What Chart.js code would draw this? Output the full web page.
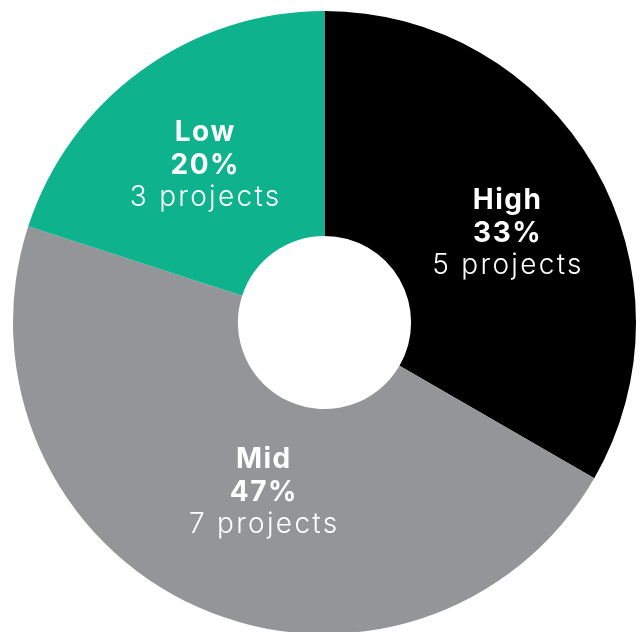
<!DOCTYPE html>
<html>
<head>
<meta charset="utf-8">
<script src="https://cdn.jsdelivr.net/npm/chart.js@4/dist/chart.umd.min.js"></script>
<style>
  html, body { margin: 0; padding: 0; background: #fff; overflow: hidden; width: 643px; height: 632px; }
  #wrap { position: absolute; left: 13px; top: 10.5px; width: 623px; height: 623px; }
</style>
</head>
<body>
<div id="wrap"><canvas id="c"></canvas></div>
<script>
const categories = ["High", "Mid", "Low"];
const projectCounts = [5, 7, 3];
const sliceColors = ["#000000", "#939598", "#0eb28c"];

const total = projectCounts.reduce((a, b) => a + b, 0);

const labelPlugin = {
  id: 'sliceLabels',
  afterDatasetsDraw(chart, args, opts) {
    const ctx = chart.ctx;
    const meta = chart.getDatasetMeta(0);
    meta.data.forEach((arc, i) => {
      const p = arc.tooltipPosition();
      const nudge = opts.nudges[i] || [0, 0];
      const x = p.x + nudge[0], y = p.y + nudge[1];
      const pct = Math.round(projectCounts[i] / total * 100) + '%';
      const lines = [
        { t: categories[i], f: 'bold 28px Inter', ls: '1.5px' },
        { t: pct, f: 'bold 28px Inter', ls: '1.5px' },
        { t: projectCounts[i] + ' projects', f: '300 28px Inter', ls: '2.3px' }
      ];
      const lh = 32.5;
      ctx.save();
      ctx.fillStyle = '#ffffff';
      ctx.textBaseline = 'middle';
      lines.forEach((l, k) => {
        ctx.font = l.f;
        ctx.letterSpacing = l.ls;
        const w = ctx.measureText(l.t).width;
        ctx.textAlign = 'left';
        ctx.fillText(l.t, x - (w - parseFloat(l.ls)) / 2, y + (k - 1) * lh);
      });
      ctx.restore();
    });
  }
};

new Chart(document.getElementById('c'), {
  type: 'doughnut',
  data: {
    labels: categories,
    datasets: [{
      data: projectCounts,
      backgroundColor: sliceColors,
      borderWidth: 0
    }]
  },
  options: {
    responsive: true,
    maintainAspectRatio: false,
    animation: false,
    cutout: '27.8%',
    layout: { padding: 0 },
    plugins: {
      legend: { display: false },
      tooltip: { enabled: false },
      sliceLabels: { nudges: [[10, 10.5], [19.5, -12], [-3, 4]] }
    }
  },
  plugins: [labelPlugin]
});
</script>
</body>
</html>
